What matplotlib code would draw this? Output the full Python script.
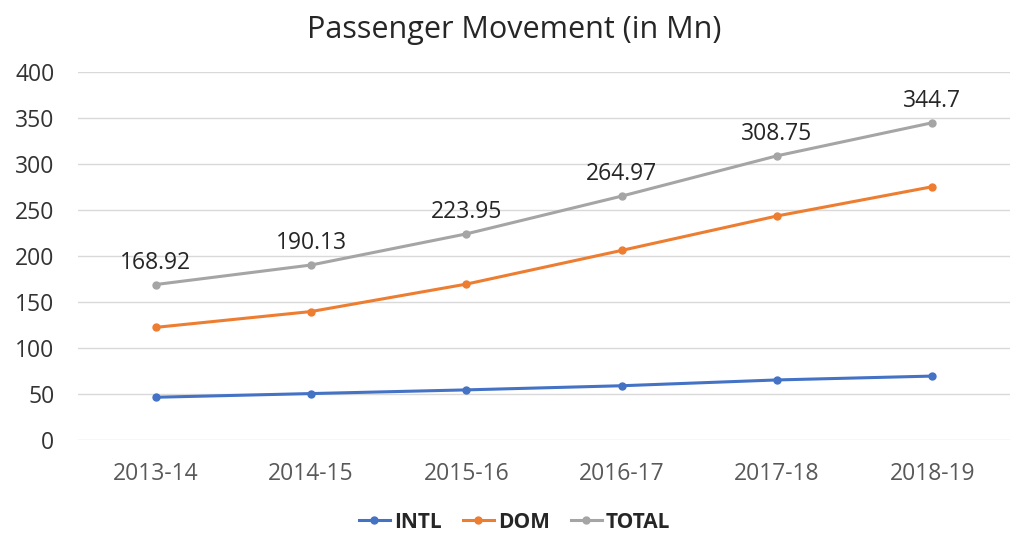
import matplotlib.pyplot as plt

# ---------- DATA ----------
years = ['2013-14', '2014-15', '2015-16', '2016-17', '2017-18', '2018-19']
intl = [46.5, 50.5, 54.5, 59.0, 65.3, 69.5]
dom = [122.4, 139.6, 169.4, 206.0, 243.4, 275.2]
total = [168.92, 190.13, 223.95, 264.97, 308.75, 344.7]

# ---------- STYLE ----------
plt.rcParams['font.family'] = ['Open Sans', 'DejaVu Sans']
C_INTL, C_DOM, C_TOTAL = '#4472C4', '#ED7D31', '#A5A5A5'

fig = plt.figure(figsize=(10.13, 5.36), dpi=100)
ax = fig.add_axes([0.077, 0.179, 0.92, 0.687])

x = list(range(len(years)))
ax.plot(x, intl, color=C_INTL, lw=2.2, marker='o', ms=5, label='INTL')
ax.plot(x, dom, color=C_DOM, lw=2.2, marker='o', ms=5, label='DOM')
ax.plot(x, total, color=C_TOTAL, lw=2.2, marker='o', ms=5, label='TOTAL')

for xi, v in zip(x, total):
    ax.annotate(f"{v:g}", (xi, v), xytext=(0, 7), textcoords='offset points',
                ha='center', va='bottom', fontsize=16.5, color='#262626')

ax.set_xlim(-0.5, len(years) - 0.5)
ax.set_ylim(0, 400)
ax.set_yticks(range(0, 401, 50))
ax.set_xticks(x)
ax.set_xticklabels(years)
ax.tick_params(axis='both', length=0, labelsize=16.5)
ax.tick_params(axis='x', pad=16, colors='#595959')
ax.tick_params(axis='y', pad=17, colors='#333333')
ax.grid(True, axis='y', color='#D9D9D9', lw=1)
ax.set_axisbelow(True)
for s in ax.spines.values():
    s.set_visible(False)

fig.suptitle("Passenger Movement (in Mn)", x=0.508, y=0.972, fontsize=22, color='#262626')

leg = fig.legend(loc='center', bbox_to_anchor=(0.508, 0.026), ncol=3, frameon=False,
                 prop={'weight': 'bold', 'size': 15}, handlelength=1.5,
                 handletextpad=0.2, columnspacing=1.0)
for t in leg.get_texts():
    t.set_color('#262626')

fig.savefig('out.png', dpi=100)
